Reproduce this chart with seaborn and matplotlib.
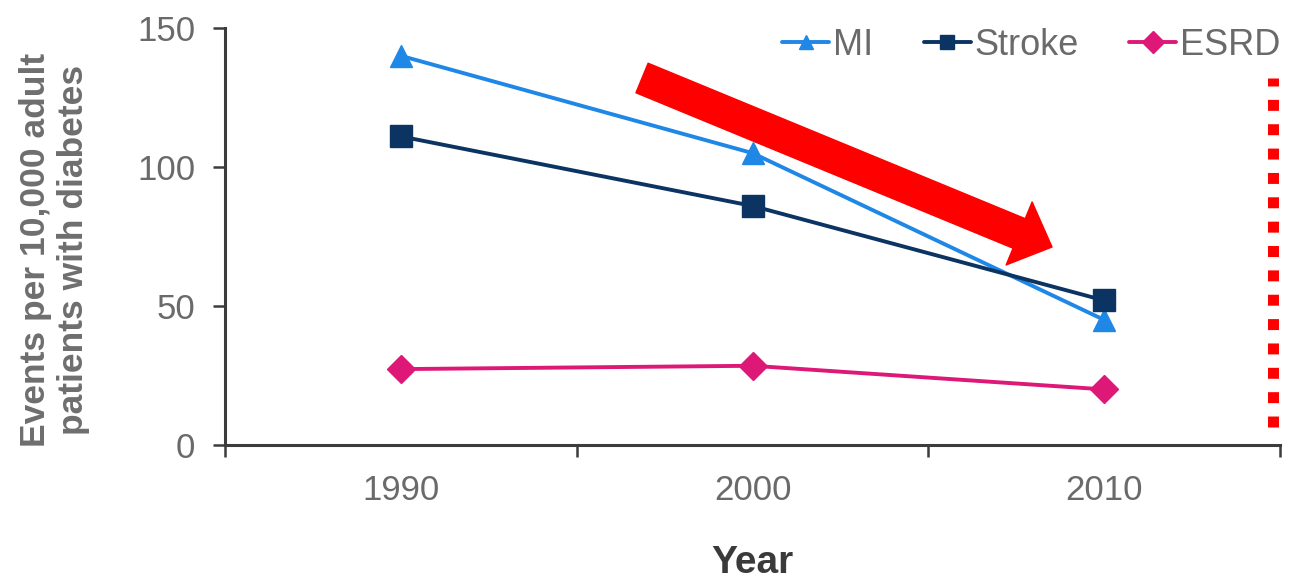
import matplotlib
matplotlib.use("Agg")
import matplotlib.pyplot as plt
import numpy as np
import pandas as pd
import seaborn as sns

# Event rates per 10,000 adults with diabetes
years = ["1990", "2000", "2010"]
mi_rates = [140, 105, 45]
stroke_rates = [111, 86, 52]
esrd_rates = [27.3, 28.5, 20]

series_names = ["MI", "Stroke", "ESRD"]
y_ticks = [0, 50, 100, 150]

series_colors = ["#1F87E6", "#0C3463", "#DD1877"]
series_markers = ["^", "s", "D"]
marker_sizes = [16, 15.5, 14]
legend_marker_sizes = [10, 10, 11]

sns.set_theme(style="white")
plt.rcParams["font.family"] = ["Liberation Sans", "DejaVu Sans"]

df = pd.DataFrame({
    "Year": years * len(series_names),
    "rate": mi_rates + stroke_rates + esrd_rates,
    "series": np.repeat(series_names, len(years)),
})

W, H = 1290, 583
fig = plt.figure(figsize=(W / 100, H / 100), dpi=100)
ax = fig.add_axes([225 / W, 1 - 445 / H, 1055 / W, (445 - 28) / H])

for name, color, marker, ms in zip(series_names, series_colors, series_markers, marker_sizes):
    sns.lineplot(
        data=df[df["series"] == name], x="Year", y="rate",
        color=color, marker=marker, markersize=ms,
        markeredgecolor=color, markeredgewidth=1,
        linewidth=2.8, label=name, ax=ax, sort=False,
    )

axis_gray = "#3C3C3C"
tick_gray = "#6A6A6A"

ax.set_xlim(-0.5, len(years) - 0.5)
ax.set_ylim(y_ticks[0], y_ticks[-1])
ax.set_yticks(y_ticks)
ax.set_xticks(range(len(years)))
ax.set_xticklabels(years)
ax.set_xticks(np.arange(-0.5, len(years)), minor=True)
ax.set_xlabel("")
ax.set_ylabel("")

for side in ["top", "right"]:
    ax.spines[side].set_visible(False)
for side in ["left", "bottom"]:
    ax.spines[side].set_color(axis_gray)
    ax.spines[side].set_linewidth(2.2)

ax.tick_params(axis="x", which="major", length=0, pad=21, labelsize=25, labelcolor=tick_gray)
ax.tick_params(axis="x", which="minor", length=8.6, width=1.8, color=axis_gray, direction="out", bottom=True)
ax.tick_params(axis="y", which="major", length=8.6, width=1.8, color=axis_gray, direction="out",
               left=True, pad=13, labelsize=25, labelcolor=tick_gray)

# Legend across the top right
leg = ax.legend(
    loc="upper right", bbox_to_anchor=(1.0, 1.0), ncol=3, frameon=False,
    fontsize=26, handlelength=1.3, handletextpad=0.1, columnspacing=1.4,
    borderpad=0, borderaxespad=0,
)
for text in leg.get_texts():
    text.set_color(tick_gray)
for handle, ms in zip(leg.legend_handles, legend_marker_sizes):
    handle.set_markersize(ms)

# Downward trend arrow
ax.annotate(
    "", xy=(0.7839, 0.4748), xytext=(0.3953, 0.8801),
    xycoords="axes fraction", textcoords="axes fraction",
    arrowprops=dict(
        arrowstyle="simple,head_length=2.56,head_width=4.9,tail_width=2.3",
        color="#FF0000", shrinkA=0, shrinkB=0, mutation_scale=10,
    ),
    zorder=5,
)

# Dotted divider at the right edge
ax.axvline(2.481, ymin=0.043, ymax=0.88, color="#FF0000", linewidth=7.9,
           linestyle=(0, (1, 1.22)), dash_capstyle="butt", clip_on=False)

fig.text(54.5 / W, 1 - 250 / H, "Events per 10,000 adult\npatients with diabetes",
         rotation=90, ha="center", va="center", multialignment="center",
         fontsize=25.5, fontweight="bold", color="#6E6E6E", linespacing=1.22)
fig.text((225 + 1055 / 2) / W, 1 - 563 / H, "Year", ha="center", va="center",
         fontsize=28, fontweight="bold", color="#3A3A3A")

fig.savefig("out.png", dpi=100)
